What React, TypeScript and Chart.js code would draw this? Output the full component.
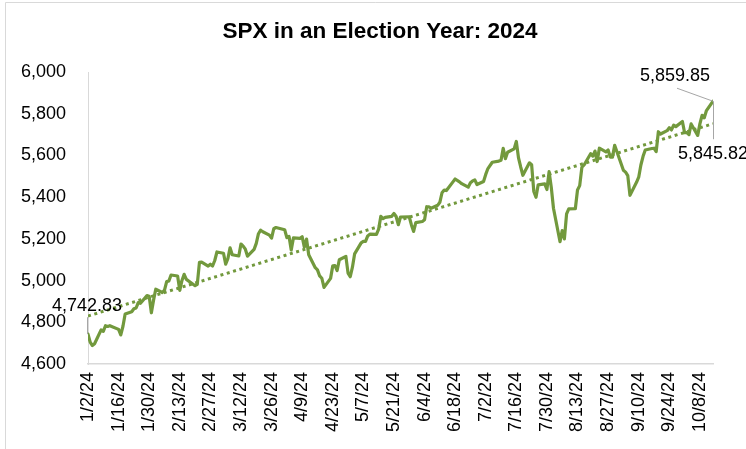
import { useEffect, useRef } from "react";
import { Chart, registerables } from "chart.js";

Chart.register(...registerables);

const TITLE = "SPX in an Election Year: 2024";

const dates: string[] = [
  "1/2/24","1/3/24","1/4/24","1/5/24","1/8/24","1/9/24","1/10/24","1/11/24","1/12/24","1/16/24","1/17/24","1/18/24","1/19/24","1/22/24","1/23/24","1/24/24","1/25/24","1/26/24","1/29/24","1/30/24","1/31/24",
  "2/1/24","2/2/24","2/5/24","2/6/24","2/7/24","2/8/24","2/9/24","2/12/24","2/13/24","2/14/24","2/15/24","2/16/24","2/20/24","2/21/24","2/22/24","2/23/24","2/26/24","2/27/24","2/28/24","2/29/24",
  "3/1/24","3/4/24","3/5/24","3/6/24","3/7/24","3/8/24","3/11/24","3/12/24","3/13/24","3/14/24","3/15/24","3/18/24","3/19/24","3/20/24","3/21/24","3/22/24","3/25/24","3/26/24","3/27/24","3/28/24",
  "4/1/24","4/2/24","4/3/24","4/4/24","4/5/24","4/8/24","4/9/24","4/10/24","4/11/24","4/12/24","4/15/24","4/16/24","4/17/24","4/18/24","4/19/24","4/22/24","4/23/24","4/24/24","4/25/24","4/26/24","4/29/24","4/30/24",
  "5/1/24","5/2/24","5/3/24","5/6/24","5/7/24","5/8/24","5/9/24","5/10/24","5/13/24","5/14/24","5/15/24","5/16/24","5/17/24","5/20/24","5/21/24","5/22/24","5/23/24","5/24/24","5/28/24","5/29/24","5/30/24","5/31/24",
  "6/3/24","6/4/24","6/5/24","6/6/24","6/7/24","6/10/24","6/11/24","6/12/24","6/13/24","6/14/24","6/17/24","6/18/24","6/20/24","6/21/24","6/24/24","6/25/24","6/26/24","6/27/24","6/28/24",
  "7/1/24","7/2/24","7/3/24","7/5/24","7/8/24","7/9/24","7/10/24","7/11/24","7/12/24","7/15/24","7/16/24","7/17/24","7/18/24","7/19/24","7/22/24","7/23/24","7/24/24","7/25/24","7/26/24","7/29/24","7/30/24","7/31/24",
  "8/1/24","8/2/24","8/5/24","8/6/24","8/7/24","8/8/24","8/9/24","8/12/24","8/13/24","8/14/24","8/15/24","8/16/24","8/19/24","8/20/24","8/21/24","8/22/24","8/23/24","8/26/24","8/27/24","8/28/24","8/29/24","8/30/24",
  "9/3/24","9/4/24","9/5/24","9/6/24","9/9/24","9/10/24","9/11/24","9/12/24","9/13/24","9/16/24","9/17/24","9/18/24","9/19/24","9/20/24","9/23/24","9/24/24","9/25/24","9/26/24","9/27/24","9/30/24",
  "10/1/24","10/2/24","10/3/24","10/4/24","10/7/24","10/8/24","10/9/24","10/10/24","10/11/24","10/14/24",
];

const closes: number[] = [
  4742.83,4704.81,4688.68,4697.24,4763.54,4756.5,4783.45,4780.24,4783.83,4765.98,4739.21,4780.94,4839.81,4850.43,4864.6,4868.55,4894.16,4890.97,4927.93,4924.97,4845.65,
  4906.19,4958.61,4942.81,4954.23,4995.06,4997.91,5026.61,5021.84,4953.17,5000.62,5029.73,5005.57,4975.51,4981.8,5087.03,5088.8,5069.53,5078.18,5069.76,5096.27,
  5137.08,5130.95,5078.65,5104.76,5157.36,5123.69,5117.94,5175.27,5165.31,5150.48,5117.09,5149.42,5178.51,5224.62,5241.53,5234.18,5218.19,5203.58,5248.49,5254.35,
  5243.77,5205.81,5211.49,5147.21,5204.34,5202.39,5209.91,5160.64,5199.06,5123.41,5061.82,5051.41,5022.21,5011.12,4967.23,5010.6,5070.55,5071.63,5048.42,5099.96,5116.17,5035.69,
  5018.39,5064.2,5127.79,5180.74,5187.7,5187.67,5214.08,5222.68,5221.42,5246.68,5308.15,5297.1,5303.27,5308.13,5321.41,5307.01,5267.84,5304.72,5306.04,5266.95,5235.48,5277.51,
  5283.4,5291.34,5354.03,5352.96,5346.99,5360.79,5375.32,5421.03,5433.74,5431.6,5473.23,5487.03,5473.17,5464.62,5447.87,5469.3,5477.9,5482.87,5460.48,
  5475.09,5509.01,5537.02,5567.19,5572.85,5576.98,5633.91,5584.54,5615.35,5631.22,5667.2,5588.27,5544.59,5505.0,5564.41,5555.74,5427.13,5399.22,5459.1,5463.54,5436.44,5522.3,
  5446.68,5346.56,5186.33,5240.03,5199.5,5319.31,5344.16,5344.39,5434.43,5455.21,5543.22,5554.25,5608.25,5597.12,5620.85,5570.64,5634.61,5616.84,5625.8,5592.18,5591.96,5648.4,
  5528.93,5520.07,5503.41,5408.42,5471.05,5495.52,5554.13,5595.76,5626.02,5633.09,5634.58,5618.26,5713.64,5702.55,5718.57,5732.93,5722.26,5745.37,5738.17,5762.48,
  5708.75,5709.54,5699.94,5751.07,5695.94,5751.13,5792.04,5780.05,5815.03,5859.85,
];

const xTickLabels: string[] = [
  "1/2/24","1/16/24","1/30/24","2/13/24","2/27/24","3/12/24","3/26/24","4/9/24","4/23/24","5/7/24",
  "5/21/24","6/4/24","6/18/24","7/2/24","7/16/24","7/30/24","8/13/24","8/27/24","9/10/24","9/24/24","10/8/24",
];

const yMin = 4600;
const yMax = 6000;
const yStep = 200;

// linear trendline end values (first and last date)
const trendValues: number[] = [4830, 5752];

const calloutTexts: string[] = ["4,742.83", "5,859.85", "5,845.82"];

const GREEN = "#72993D";
const FONT = "'Liberation Sans', Arial, sans-serif";

function dayOf(s: string): number {
  const [m, d, y] = s.split("/").map(Number);
  return (Date.UTC(2000 + y, m - 1, d) - Date.UTC(2024, 0, 2)) / 86400000;
}

function fmtNum(v: number): string {
  return v.toLocaleString("en-US");
}

export default function App() {
  const ref = useRef<HTMLCanvasElement | null>(null);

  useEffect(() => {
    document.body.style.margin = "0";
    const canvas = ref.current;
    if (!canvas) return;

    const points = dates.map((d, i) => ({ x: dayOf(d), y: closes[i] }));
    const firstX = dayOf(dates[0]);
    const lastX = dayOf(dates[dates.length - 1]);
    const trendPoints = [
      { x: firstX, y: trendValues[0] },
      { x: lastX, y: trendValues[1] },
    ];
    const tickValues = xTickLabels.map(dayOf);
    const labelMap = new Map<number, string>();
    xTickLabels.forEach((l) => labelMap.set(dayOf(l), l));

    const decor = {
      id: "decor",
      beforeDraw(chart: any) {
        const ctx = chart.ctx;
        ctx.save();
        ctx.fillStyle = "#ffffff";
        ctx.fillRect(0, 0, chart.width, chart.height);
        ctx.strokeStyle = "#d9d9d9";
        ctx.lineWidth = 1;
        ctx.beginPath();
        ctx.moveTo(5.5, chart.height);
        ctx.lineTo(5.5, 2.5);
        ctx.lineTo(chart.width, 2.5);
        ctx.stroke();
        ctx.fillStyle = "#000000";
        ctx.font = `bold 22.5px ${FONT}`;
        ctx.textAlign = "center";
        ctx.textBaseline = "middle";
        ctx.fillText(TITLE, 380, 32);
        ctx.restore();
      },
      afterDatasetsDraw(chart: any) {
        const ctx = chart.ctx;
        const xs = chart.scales.x;
        const ys = chart.scales.y;
        const p0x = xs.getPixelForValue(firstX);
        const p0y = ys.getPixelForValue(closes[0]);
        const pnx = xs.getPixelForValue(lastX);
        const pny = ys.getPixelForValue(closes[closes.length - 1]);
        ctx.save();
        ctx.strokeStyle = "#a6a6a6";
        ctx.lineWidth = 1;
        ctx.beginPath();
        ctx.moveTo(p0x - 0.5, p0y - 17);
        ctx.lineTo(p0x - 0.5, p0y);
        ctx.moveTo(pnx - 36, pny - 13);
        ctx.lineTo(pnx, pny);
        ctx.moveTo(pnx + 0.5, pny);
        ctx.lineTo(pnx + 0.5, pny + 38);
        ctx.stroke();
        ctx.fillStyle = "#000000";
        ctx.font = `18px ${FONT}`;
        ctx.textBaseline = "middle";
        ctx.textAlign = "left";
        ctx.fillText(calloutTexts[0], p0x - 36, p0y - 28);
        ctx.fillText(calloutTexts[1], pnx - 73, pny - 25);
        ctx.fillText(calloutTexts[2], pnx - 35, pny + 53);
        ctx.restore();
      },
    };

    const chart = new Chart(canvas, {
      type: "line",
      data: {
        datasets: [
          {
            data: points,
            borderColor: GREEN,
            borderWidth: 3.2,
            pointRadius: 0,
            tension: 0,
            borderJoinStyle: "round",
            borderCapStyle: "round",
          },
          {
            data: trendPoints,
            borderColor: GREEN,
            borderWidth: 3,
            borderDash: [3, 3.6],
            pointRadius: 0,
            tension: 0,
          },
        ],
      },
      options: {
        animation: false,
        responsive: true,
        maintainAspectRatio: false,
        parsing: false as any,
        layout: { padding: { left: 0, right: 33, top: 72, bottom: 0 } },
        plugins: {
          legend: { display: false },
          tooltip: { enabled: false },
          title: { display: false },
        },
        scales: {
          x: {
            type: "linear",
            min: firstX,
            max: lastX,
            grid: { display: false, drawTicks: false },
            border: { display: true, color: "#d9d9d9", width: 1.5 },
            afterBuildTicks: (scale: any) => {
              scale.ticks = tickValues.map((v) => ({ value: v }));
            },
            afterFit: (scale: any) => {
              scale.height = 85;
            },
            ticks: {
              autoSkip: false,
              minRotation: 90,
              maxRotation: 90,
              padding: 8,
              color: "#000000",
              font: { family: FONT, size: 18 },
              callback: (v: any) => labelMap.get(Number(v)) ?? "",
            },
          },
          y: {
            type: "linear",
            min: yMin,
            max: yMax,
            grid: { display: false, drawTicks: false },
            border: { display: true, color: "#d9d9d9", width: 1 },
            afterFit: (scale: any) => {
              scale.width = 88;
            },
            ticks: {
              stepSize: yStep,
              padding: 22,
              color: "#000000",
              font: { family: FONT, size: 18 },
              callback: (v: any) => fmtNum(Number(v)),
            },
          },
        },
      },
      plugins: [decor],
    });

    return () => chart.destroy();
  }, []);

  return (
    <div style={{ position: "fixed", left: 0, top: 0, width: 746, height: 449 }}>
      <canvas ref={ref} />
    </div>
  );
}
